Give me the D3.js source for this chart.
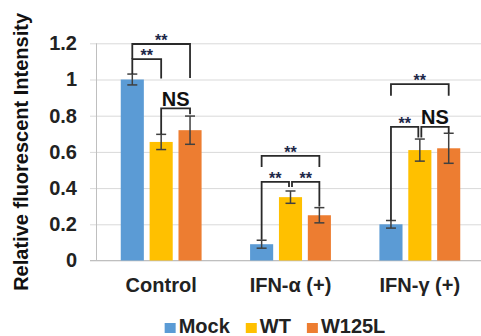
<!DOCTYPE html>
<html>
<head>
<meta charset="utf-8">
<script src="https://cdn.jsdelivr.net/npm/d3@7/dist/d3.min.js"></script>
<style>
  html, body { margin: 0; padding: 0; background: #ffffff; }
  svg { display: block; font-family: "Liberation Sans", Arial, sans-serif; }
</style>
</head>
<body>
<svg id="chart" width="481" height="336"></svg>
<script>
// ---- data ----
const categories = ["Control", "IFN-α (+)", "IFN-γ (+)"];
const seriesNames = ["Mock", "WT", "W125L"];
const mockValues  = [1.00, 0.09, 0.20];
const wtValues    = [0.655, 0.35, 0.61];
const w125lValues = [0.72, 0.25, 0.62];
const mockErrors  = [0.03, 0.022, 0.021];
const wtErrors    = [0.042, 0.034, 0.061];
const w125lErrors = [0.078, 0.042, 0.083];
const yTickValues = [0, 0.2, 0.4, 0.6, 0.8, 1, 1.2];
const yTickLabels = ["0", "0.2", "0.4", "0.6", "0.8", "1", "1.2"];

// significance comparisons: [category, from, to, bracket level, from-leg end, to-leg end, label]
const comparisons = [
  ["Control",   "Mock", "W125L", 1.196, 1.113, 1.008, "**"],
  ["Control",   "Mock", "WT",    1.113, 1.030, 1.006, "**"],
  ["Control",   "WT",   "W125L", 0.840, 0.698, 0.808, "NS"],
  ["IFN-α (+)", "Mock", "W125L", 0.578, 0.517, 0.517, "**"],
  ["IFN-α (+)", "Mock", "WT",    0.434, 0.115, 0.406, "**"],
  ["IFN-α (+)", "WT",   "W125L", 0.434, 0.406, 0.299, "**"],
  ["IFN-γ (+)", "Mock", "W125L", 0.975, 0.910, 0.910, "**"],
  ["IFN-γ (+)", "Mock", "WT",    0.738, 0.221, 0.680, "**"],
  ["IFN-γ (+)", "WT",   "W125L", 0.738, 0.680, 0.705, "NS"]
];

const seriesValues = [mockValues, wtValues, w125lValues];
const seriesErrors = [mockErrors, wtErrors, w125lErrors];
const colors = ["#5B9BD5", "#FFC000", "#ED7D31"];

// ---- layout ----
const W = 481, H = 336;
const plotLeft = 96.5, plotRight = 484.5, plotTop = 43.3, plotBottom = 260.5;
const svg = d3.select("#chart");

const x0 = d3.scaleBand().domain(categories).range([plotLeft, plotRight]).padding(0);
const x1 = d3.scaleBand().domain(seriesNames).range([0, x0.bandwidth()])
  .paddingInner(0.2).paddingOuter(0.84);
const y = d3.scaleLinear().domain([0, 1.2]).range([plotBottom, plotTop]);

// gridlines + tick labels
const gridAxis = d3.axisLeft(y)
  .tickValues(yTickValues)
  .tickFormat((d, i) => yTickLabels[i])
  .tickSizeInner(-(W - 90))
  .tickSizeOuter(0)
  .tickPadding(13);
const gAxis = svg.append("g").attr("transform", "translate(90,0)").call(gridAxis);
gAxis.select(".domain").remove();
gAxis.selectAll(".tick line").attr("stroke", "#d9d9d9").attr("stroke-width", 1);
gAxis.selectAll(".tick text")
  .attr("fill", "#222")
  .style("font-size", "20px")
  .style("font-weight", "bold")
  .style("font-family", "'Liberation Sans', Arial, sans-serif");

// vertical axis line and baseline
svg.append("line")
  .attr("x1", plotLeft).attr("x2", plotLeft)
  .attr("y1", y(1.2)).attr("y2", y(0))
  .attr("stroke", "#bfbfbf").attr("stroke-width", 1);
svg.append("line")
  .attr("x1", 90).attr("x2", W)
  .attr("y1", y(0)).attr("y2", y(0))
  .attr("stroke", "#bfbfbf").attr("stroke-width", 1);

// bars
const barData = [];
categories.forEach((c, ci) => {
  seriesNames.forEach((s, si) => {
    barData.push({ c, s, si, v: seriesValues[si][ci], e: seriesErrors[si][ci] });
  });
});

const gBars = svg.append("g");
gBars.selectAll("rect").data(barData).join("rect")
  .attr("x", d => x0(d.c) + x1(d.s))
  .attr("y", d => y(d.v))
  .attr("width", x1.bandwidth())
  .attr("height", d => y(0) - y(d.v))
  .attr("fill", d => colors[d.si]);

// error bars
const capW = 5;
const gErr = svg.append("g").attr("stroke", "#404040").attr("stroke-width", 1.5);
barData.forEach(d => {
  const cx = x0(d.c) + x1(d.s) + x1.bandwidth() / 2;
  gErr.append("line").attr("x1", cx).attr("x2", cx)
    .attr("y1", y(d.v - d.e)).attr("y2", y(d.v + d.e));
  gErr.append("line").attr("x1", cx - capW).attr("x2", cx + capW)
    .attr("y1", y(d.v + d.e)).attr("y2", y(d.v + d.e));
  gErr.append("line").attr("x1", cx - capW).attr("x2", cx + capW)
    .attr("y1", y(d.v - d.e)).attr("y2", y(d.v - d.e));
});

// significance brackets
const gBr = svg.append("g");
comparisons.forEach(([c, a, b, top, aEnd, bEnd, label]) => {
  let xa = x0(c) + x1(a) + x1.bandwidth() / 2;
  let xb = x0(c) + x1(b) + x1.bandwidth() / 2;
  if (c !== "Control") {
    if (a === "WT") xa += 1.5;
    if (b === "WT") xb -= 1.5;
  }
  const path = d3.path();
  path.moveTo(xa, y(aEnd));
  path.lineTo(xa, y(top));
  path.lineTo(xb, y(top));
  path.lineTo(xb, y(bEnd));
  gBr.append("path").attr("d", path.toString())
    .attr("fill", "none").attr("stroke", "#2a2a2a").attr("stroke-width", 1.8);
  const isNS = label === "NS";
  gBr.append("text")
    .attr("x", (xa + xb) / 2)
    .attr("y", isNS ? y(top) - 2.5 : y(top) + 2)
    .attr("text-anchor", "middle")
    .attr("fill", isNS ? "#111" : "#1d2748")
    .style("font-size", isNS ? "20px" : "16px")
    .style("font-weight", "bold")
    .text(label);
});

// category labels
svg.append("g").selectAll("text").data(categories).join("text")
  .attr("x", d => x0(d) + x0.bandwidth() / 2)
  .attr("y", 292)
  .attr("text-anchor", "middle")
  .attr("fill", "#222")
  .style("font-size", "20px")
  .style("font-weight", "bold")
  .text(d => d);

// y axis title
svg.append("text")
  .attr("transform", `translate(28,${(y(0) + y(1.2)) / 2}) rotate(-90)`)
  .attr("text-anchor", "middle")
  .attr("fill", "#111")
  .style("font-size", "20px")
  .style("font-weight", "bold")
  .text("Relative fluorescent Intensity");

// legend
const gLeg = svg.append("g");
const items = gLeg.selectAll("g").data(seriesNames).join("g");
items.append("rect").attr("width", 11).attr("height", 10).attr("y", -9.5)
  .attr("fill", (d, i) => colors[i]);
items.append("text").attr("x", 14).attr("y", 0)
  .attr("fill", "#222")
  .style("font-size", "20px").style("font-weight", "bold")
  .text(d => d);
let cursor = 0;
const gap = 16;
items.each(function () {
  const w = 14 + d3.select(this).select("text").node().getComputedTextLength();
  d3.select(this).attr("transform", `translate(${cursor},0)`);
  cursor += w + gap;
});
const legW = cursor - gap;
gLeg.attr("transform", `translate(${275 - legW / 2},332.5)`);
</script>
</body>
</html>
